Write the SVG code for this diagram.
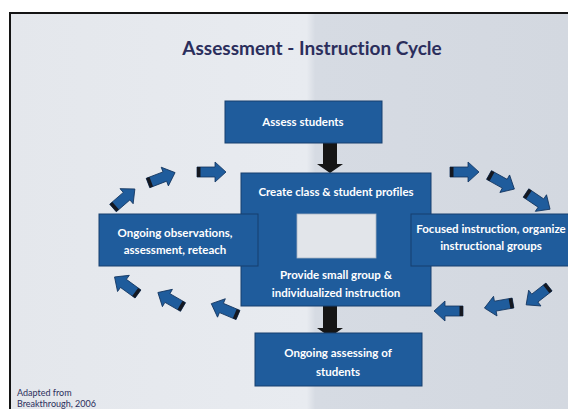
<svg xmlns="http://www.w3.org/2000/svg" width="568" height="409" viewBox="0 0 568 409">
<style>
.box{fill:#1f5c9c;stroke:#173f6e;stroke-width:1}
.lbl{font-family:Lato,"Open Sans","Liberation Sans",sans-serif;font-weight:700;fill:#ffffff;font-size:11.5px;text-anchor:middle;font-variant-ligatures:none}
.title{font-family:Lato,"Open Sans","Liberation Sans",sans-serif;font-weight:700;fill:#2b2e5c;font-size:19px;text-anchor:middle;font-variant-ligatures:none}
.foot{font-family:Lato,"Open Sans","Liberation Sans",sans-serif;fill:#2b2e5c;font-size:9px}
</style>
<defs>
<linearGradient id="paper" x1="0" y1="0" x2="1" y2="0">
<stop offset="0" stop-color="#e4e7ec"/>
<stop offset="0.53" stop-color="#e8ebf0"/>
<stop offset="0.545" stop-color="#d6dbe3"/>
<stop offset="1" stop-color="#d3d8e0"/>
</linearGradient>
<g id="arr">
<polygon points="0,-5 18,-5 18,-10 29,0 18,10 18,5 0,5" fill="#1f5c9c" stroke="#12345e" stroke-width="0.8"/>
<rect x="0" y="-5" width="3.5" height="10" fill="#151820"/>
</g>
<polygon id="down" points="-7,0 7,0 7,22 13,22 0,31 -13,22 -7,22" fill="#151515"/>
</defs>
<rect width="568" height="409" fill="#ffffff"/>
<rect x="10" y="13" width="560" height="400" fill="url(#paper)" stroke="#141414" stroke-width="2"/>
<text x="312" y="55" class="title">Assessment - Instruction Cycle</text>

<g id="connectors">
<use href="#down" transform="translate(330,142)"/>
<use href="#down" transform="translate(330,306)"/>
<use href="#arr" transform="translate(113,208) rotate(-41)"/>
<use href="#arr" transform="translate(148,183) rotate(-21)"/>
<use href="#arr" transform="translate(197,172)"/>
<use href="#arr" transform="translate(450,172)"/>
<use href="#arr" transform="translate(489,175) rotate(29)"/>
<use href="#arr" transform="translate(526,193) rotate(34)"/>
<use href="#arr" transform="translate(549,287) rotate(142)"/>
<use href="#arr" transform="translate(513,303) rotate(170)"/>
<use href="#arr" transform="translate(463,311) rotate(180)"/>
<use href="#arr" transform="translate(238,315) rotate(-157)"/>
<use href="#arr" transform="translate(183,307) rotate(-150)"/>
<use href="#arr" transform="translate(138,294) rotate(-144)"/>
</g>

<g id="assess">
<rect x="225" y="101" width="157" height="42" class="box"/>
<text x="303" y="126" class="lbl">Assess students</text>
</g>
<g id="profiles">
<rect x="241" y="173" width="190" height="133" class="box"/>
<text x="336" y="196" class="lbl">Create class &amp; student profiles</text>
<rect x="297" y="214" width="79" height="44" fill="#e2e5ea" stroke="#a9b3c2" stroke-width="0.8"/>
<text x="336" y="279" class="lbl">Provide small group &amp;</text>
<text x="336" y="297" class="lbl">individualized instruction</text>
</g>
<g id="ongoing-obs">
<rect x="99" y="214" width="159" height="52" class="box"/>
<text x="175" y="237" class="lbl">Ongoing observations,</text>
<text x="175" y="254" class="lbl">assessment, reteach</text>
</g>
<g id="focused">
<rect x="411" y="214" width="160" height="52" class="box"/>
<text x="491" y="233" class="lbl">Focused  instruction, organize</text>
<text x="491" y="250" class="lbl">instructional groups</text>
</g>
<g id="ongoing-assess">
<rect x="255" y="333" width="167" height="53" class="box"/>
<text x="338" y="357" class="lbl">Ongoing assessing of</text>
<text x="338" y="376" class="lbl">students</text>
</g>
<text x="17" y="396" class="foot">Adapted from</text>
<text x="17" y="407" class="foot">Breakthrough, 2006</text>
</svg>
